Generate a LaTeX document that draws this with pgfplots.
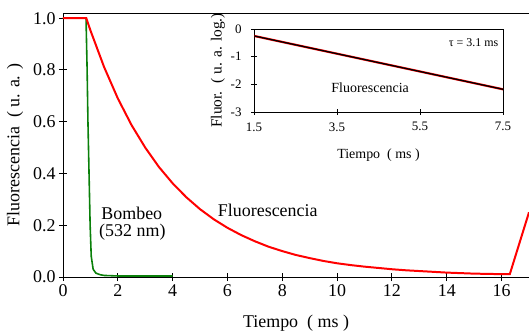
\documentclass[border=0pt]{standalone}
\usepackage{pgfplots}
\pgfplotsset{compat=1.18}
\usepackage{fontspec}
\setmainfont{Liberation Serif}
\definecolor{myred}{RGB}{255,0,0}
\definecolor{mygreen}{RGB}{10,128,10}
\begin{document}
\begin{tikzpicture}
\begin{axis}[
  name=main,
  scale only axis, width=466bp, height=264bp,
  at={(0,0)}, anchor=south west,
  xmin=0, xmax=17, ymin=0, ymax=1.02,
  axis x line*=bottom, axis y line*=left,
  axis line style={line width=1pt, -},
  xtick={0,2,...,16}, ytick={0,0.2,...,1.0},
  yticklabel style={/pgf/number format/.cd, fixed, fixed zerofill, precision=1},
  /pgf/number format/assume math mode=true,
  tick align=center, major tick length=8bp,
  tick style={line width=1pt, black},
  ticklabel style={font=\fontsize{18}{20}\selectfont},
  xlabel={Tiempo\ \ ( ms )},
  ylabel={Fluorescencia\ \ ( u. a. )},
  label style={font=\fontsize{18}{20}\selectfont},
  xlabel style={at={(axis description cs:0.5,-0.174)}, anchor=center},
  ylabel style={at={(axis description cs:-0.103,0.5)}, anchor=center},
  clip=false,
]
\addplot[mygreen, line width=1.6pt] coordinates {
(0,1.0) (0.84,1.0) (0.88,0.8) (0.91,0.6) (0.95,0.4) (0.99,0.2) (1.03,0.08)
(1.1,0.03) (1.2,0.015) (1.35,0.009) (1.5,0.006) (2,0.004) (3,0.004) (4,0.004)
};
\addplot[myred, line width=2pt] coordinates {
(0,1.0) (0.85,1.0) (1.0,0.953) (1.5,0.811) (2.0,0.690) (2.5,0.587) (3.0,0.500)
(3.5,0.425) (4.0,0.362) (4.5,0.308) (5.0,0.262) (5.5,0.223) (6.0,0.190)
(6.5,0.162) (7.0,0.138) (7.5,0.117) (8.0,0.1) (8.5,0.085) (9.0,0.073)
(9.5,0.062) (10,0.053) (10.5,0.046) (11,0.040) (11.5,0.035) (12,0.030)
(12.5,0.026) (13,0.023) (13.5,0.020) (14,0.017) (14.5,0.015) (15,0.013)
(15.5,0.012) (16,0.011) (16.3,0.011) (17,0.25)
};
\draw[line width=1pt] (rel axis cs:0,1) -- (rel axis cs:1,1);
\node[font=\fontsize{18}{20}\selectfont, anchor=center] at (axis cs:2.51,0.247) {Bombeo};
\node[font=\fontsize{18}{20}\selectfont, anchor=center] at (axis cs:2.53,0.172) {(532 nm)};
\node[font=\fontsize{18}{20}\selectfont, anchor=center] at (axis cs:7.47,0.259) {Fluorescencia};
\end{axis}
\begin{axis}[
  scale only axis, width=249bp, height=83bp,
  at={(191bp,165bp)}, anchor=south west,
  xmin=1.5, xmax=7.5, ymin=-3, ymax=0,
  xtick={1.5,3.5,5.5,7.5}, ytick={-3,-2,-1,0},
  xticklabel style={yshift=-4bp, /pgf/number format/.cd, fixed, fixed zerofill, precision=1},
  /pgf/number format/assume math mode=true,
  xtick pos=bottom, ytick pos=left,
  tick align=center, major tick length=6bp,
  tick style={line width=0.9pt, black},
  axis line style={line width=0.9pt},
  ticklabel style={font=\fontsize{13}{15}\selectfont},
  yticklabel style={xshift=-6bp},
  xlabel={Tiempo\ \ ( ms )},
  ylabel={Fluor.\ \ ( u. a. log.)},
  label style={font=\fontsize{14}{16}\selectfont},
  ylabel style={font=\fontsize{15.5}{17}\selectfont},
  xlabel style={at={(axis description cs:0.5,-0.52)}, anchor=center},
  ylabel style={at={(axis description cs:-0.145,0.5)}, anchor=center},
]
\addplot[myred, line width=2.2pt] coordinates {(1.5,-0.25) (7.5,-2.18)};
\addplot[black, line width=1.3pt] coordinates {(1.5,-0.25) (7.5,-2.18)};
\node[font=\fontsize{12}{14}\selectfont, anchor=east] at (axis cs:7.47,-0.51) {τ = 3.1 ms};
\node[font=\fontsize{14}{16}\selectfont] at (axis cs:4.3,-2.13) {Fluorescencia};
\end{axis}
\pgfresetboundingbox
\useasboundingbox (-63bp,-57bp) rectangle (466bp,277bp);
\end{tikzpicture}
\end{document}
